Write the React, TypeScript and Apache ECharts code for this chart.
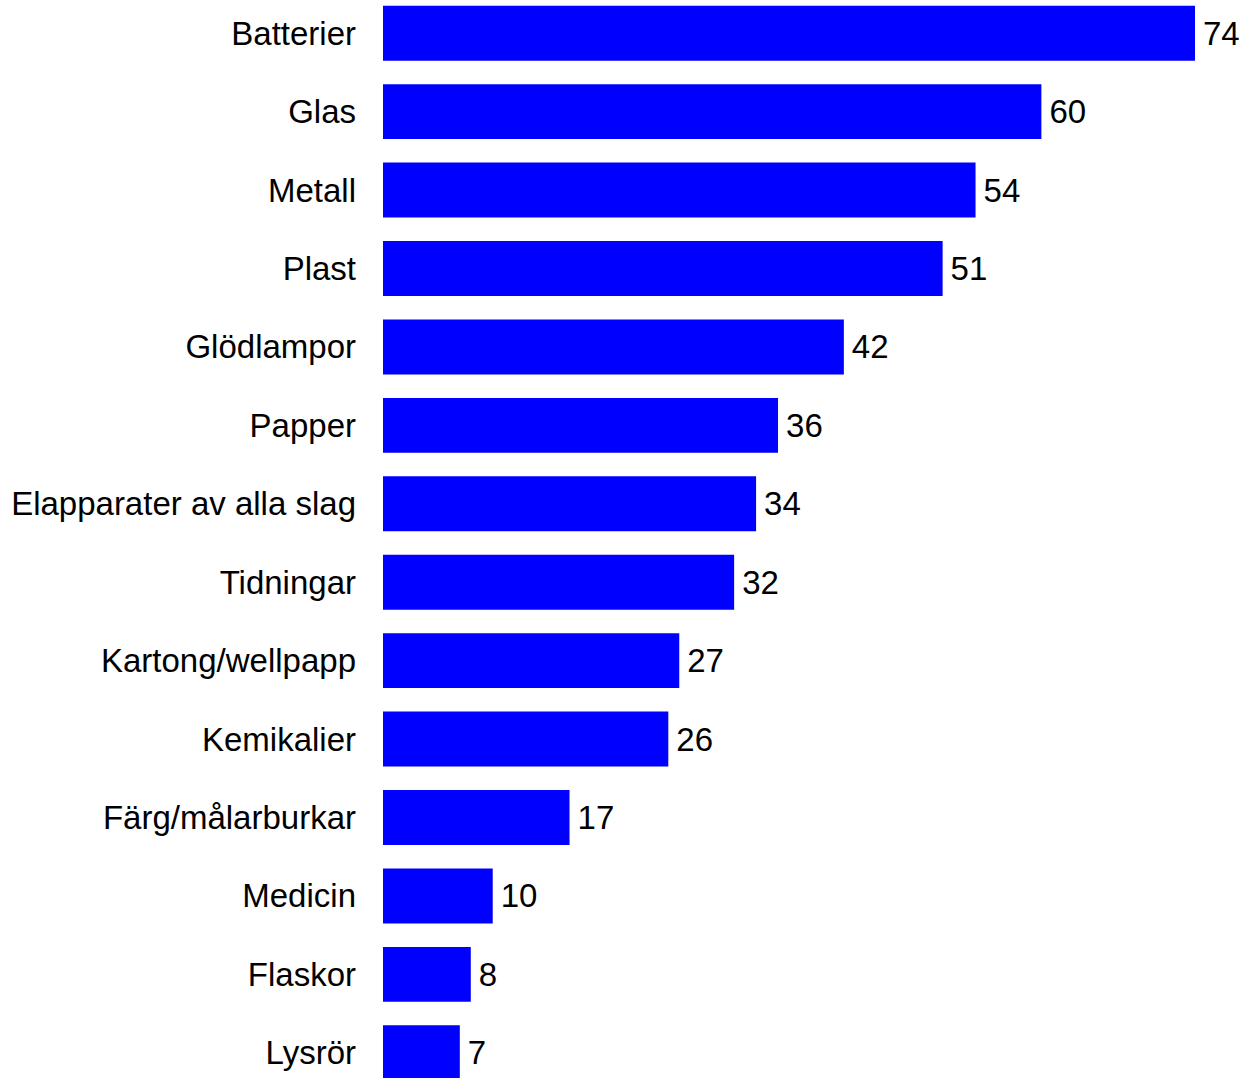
import React, { useEffect, useRef } from "react";
import * as echarts from "echarts";

const categories = [
  "Batterier",
  "Glas",
  "Metall",
  "Plast",
  "Glödlampor",
  "Papper",
  "Elapparater av alla slag",
  "Tidningar",
  "Kartong/wellpapp",
  "Kemikalier",
  "Färg/målarburkar",
  "Medicin",
  "Flaskor",
  "Lysrör",
];
const values = [74, 60, 54, 51, 42, 36, 34, 32, 27, 26, 17, 10, 8, 7];

export default function App() {
  const ref = useRef<HTMLDivElement>(null);
  useEffect(() => {
    if (!ref.current) return;
    const chart = echarts.init(ref.current, null, { renderer: "svg" });
    chart.setOption({
      animation: false,
      backgroundColor: "#ffffff",
      grid: { left: 383, right: 50, top: 0, bottom: 0, containLabel: false },
      xAxis: {
        type: "value",
        min: 0,
        max: 74,
        show: false,
      },
      yAxis: {
        type: "category",
        data: categories,
        inverse: true,
        axisLine: { show: false },
        axisTick: { show: false },
        axisLabel: {
          margin: 27,
          fontSize: 33,
          fontFamily: "Liberation Sans, Arial, sans-serif",
          color: "#000000",
        },
      },
      series: [
        {
          type: "bar",
          data: values,
          barCategoryGap: "30%",
          itemStyle: { color: "#0000ff" },
          label: {
            show: true,
            position: "right",
            distance: 8,
            fontSize: 33,
            fontFamily: "Liberation Sans, Arial, sans-serif",
            color: "#000000",
          },
        },
      ],
    });
    return () => chart.dispose();
  }, []);
  return (
    <div
      ref={ref}
      style={{ position: "absolute", left: 0, top: -6, width: 1245, height: 1098 }}
    />
  );
}
